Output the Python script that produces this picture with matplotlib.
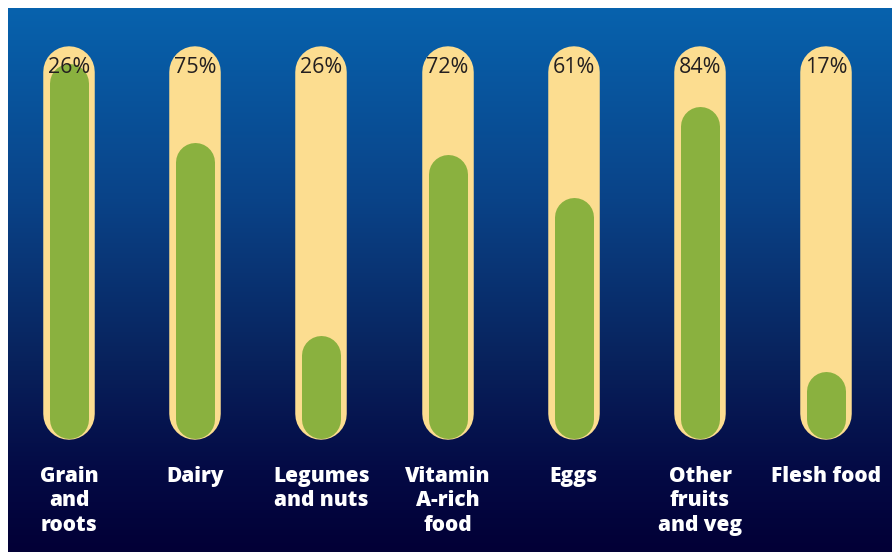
import numpy as np
import matplotlib
matplotlib.use("Agg")
import matplotlib.pyplot as plt
from matplotlib.colors import LinearSegmentedColormap

categories = ["Grain\nand\nroots", "Dairy", "Legumes\nand nuts", "Vitamin\nA-rich\nfood",
              "Eggs", "Other\nfruits\nand veg", "Flesh food"]
values = [95, 75, 26, 72, 61, 84, 17]
value_labels = ["26%", "75%", "26%", "72%", "61%", "84%", "17%"]

W, H = 892, 552
fig = plt.figure(figsize=(W / 100, H / 100), dpi=100, facecolor="white")

# gradient background (thin white strip left and top)
bg = fig.add_axes([8 / W, 0, (W - 8) / W, (H - 8) / H])
bg.axis("off")
cmap = LinearSegmentedColormap.from_list(
    "bg", [(0.0, "#0762ad"), (0.35, "#0a4388"), (0.65, "#08225c"),
           (0.85, "#040a45"), (1.0, "#020036")])
grad = np.linspace(0, 1, 256).reshape(-1, 1)
bg.imshow(grad, aspect="auto", cmap=cmap, extent=[0, 1, 1, 0])

ax = fig.add_axes([0, 0, 1, 1])
ax.set_facecolor("none")
ax.axis("off")

# scale: category spacing ~126 px, 100% ~395 px
px_x = 126.2
px_y = 3.95
ax.set_xlim(-69 / px_x, (W - 69) / px_x)
ax.set_ylim(-(H - 438.5) / px_y, 438.5 / px_y)

pt = 72 / 100  # points per pixel
track_px, bar_px = 51.5, 39
track_top = (438.5 - 46) / px_y
track_bot = -1 / px_y
r_track = track_px / 2 / px_y
r_bar = bar_px / 2 / px_y

for i, (v, lab, cat) in enumerate(zip(values, value_labels, categories)):
    # pills drawn as thick lines with round caps
    ax.plot([i, i], [track_bot + r_track, track_top - r_track], color="#fcdd90",
            lw=track_px * pt, solid_capstyle="round", zorder=2)
    ax.plot([i, i], [r_bar, v - r_bar], color="#8ab13f",
            lw=bar_px * pt, solid_capstyle="round", zorder=3)
    ax.text(i, 94.0, lab, ha="center", va="center", fontsize=15.5,
            family=["Open Sans", "DejaVu Sans"], color="#231f20", zorder=4)
    ax.text(i, -7.0, cat, ha="center", va="top", fontsize=15,
            family=["Open Sans", "DejaVu Sans"], fontweight=800,
            color="white", linespacing=1.2)

fig.savefig("out.png", dpi=100, facecolor="white")
